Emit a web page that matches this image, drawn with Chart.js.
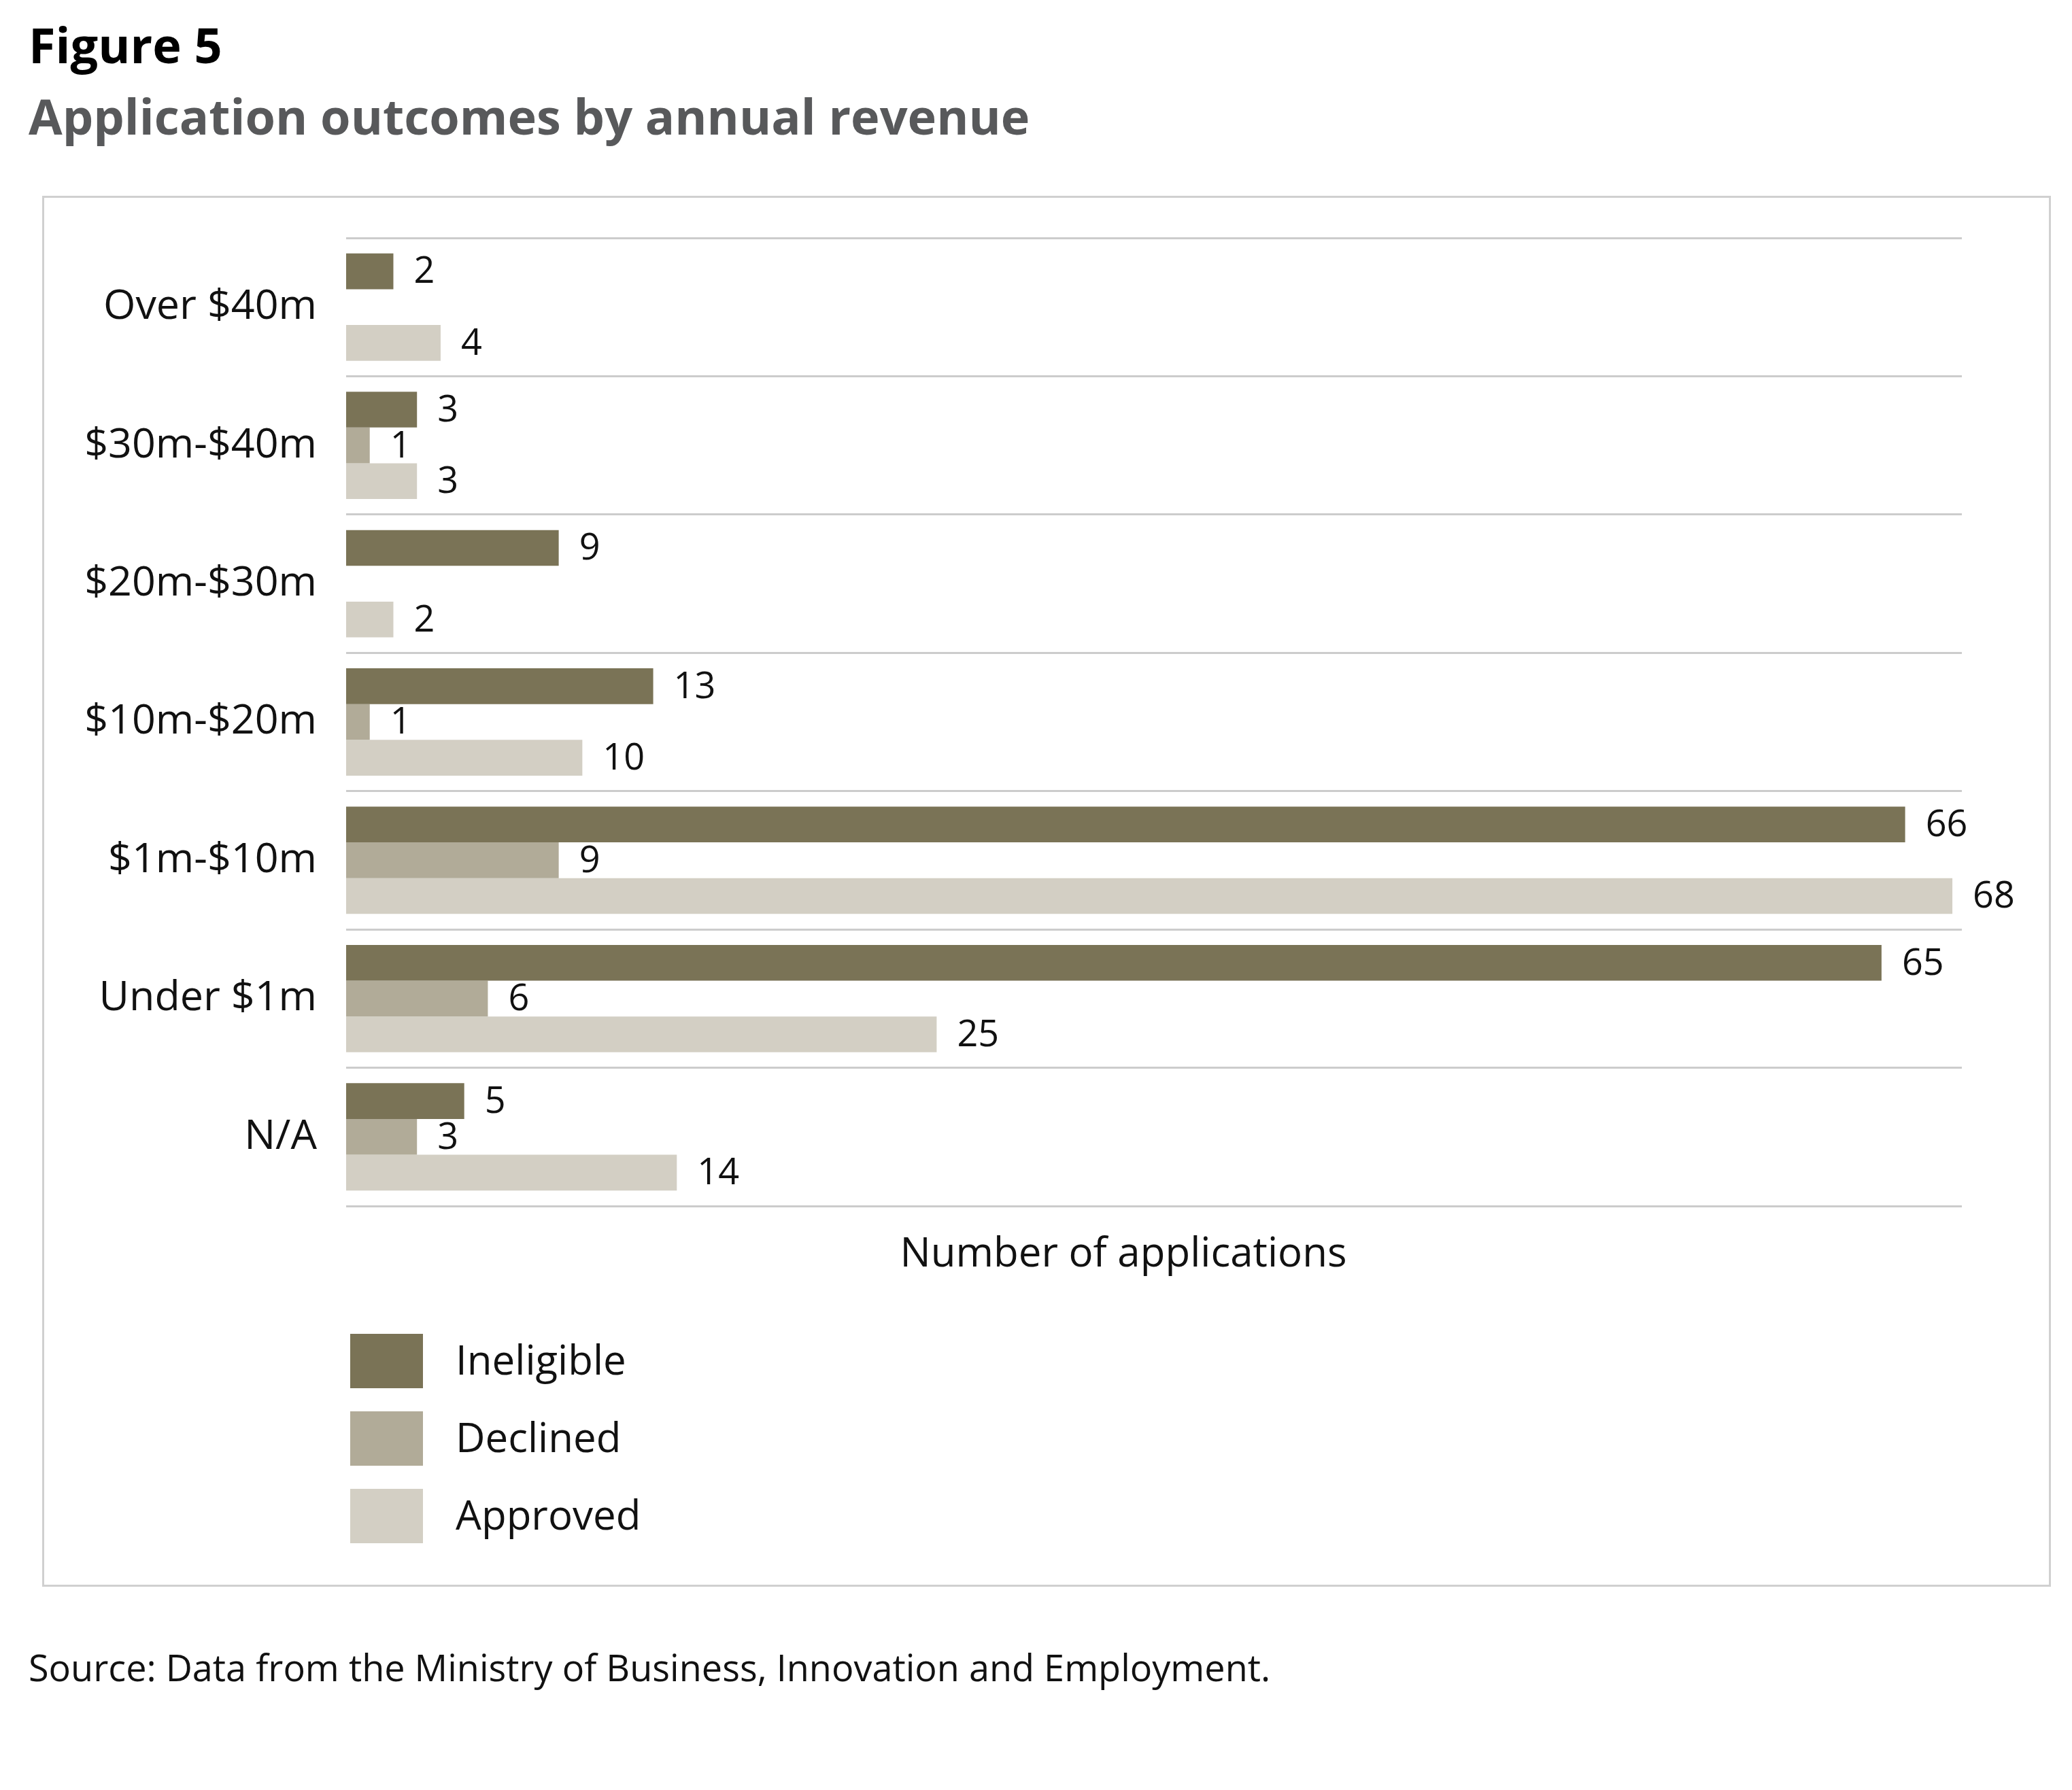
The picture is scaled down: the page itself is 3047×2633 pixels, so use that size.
<!DOCTYPE html>
<html>
<head>
<meta charset="utf-8">
<script src="https://cdn.jsdelivr.net/npm/chart.js@4.4.1/dist/chart.umd.min.js"></script>
<style>
  body { margin: 0; background: #fff; width: 3047px; height: 2633px; position: relative; overflow: hidden; font-family: "Open Sans", sans-serif; }
  .fig { position: absolute; left: 42px; top: 29px; font-size: 72px; line-height: 72px; font-weight: bold; color: #000; }
  .sub { position: absolute; left: 42px; top: 134px; font-size: 72px; line-height: 72px; font-weight: bold; color: #58595b; }
  .box { position: absolute; left: 62px; top: 288px; width: 2948px; height: 2040px; border: 3px solid #d0d0d0; }
  .wrap { position: absolute; left: 62px; top: 288px; width: 2952px; height: 1620px; }
  .legend { position: absolute; left: 515px; top: 1962px; }
  .item { position: relative; height: 80px; margin-bottom: 34px; }
  .item span.sw { position: absolute; left: 0; top: 0; width: 107px; height: 80px; }
  .item span.tx { position: absolute; left: 155px; top: -3px; font-size: 60px; line-height: 80px; color: #111; }
  .src { position: absolute; left: 42px; top: 2425px; font-size: 54px; line-height: 54px; color: #111; }
</style>
</head>
<body>
<div class="fig">Figure 5</div>
<div class="sub">Application outcomes by annual revenue</div>
<div class="box"></div>
<div class="wrap"><canvas id="chart"></canvas></div>
<div class="legend" id="legend"></div>
<div class="src">Source: Data from the Ministry of Business, Innovation and Employment.</div>
<script>
// categories top to bottom
var categories = ['Over $40m', '$30m-$40m', '$20m-$30m', '$10m-$20m', '$1m-$10m', 'Under $1m', 'N/A'];
var ineligible = [2, 3, 9, 13, 66, 65, 5];
var declined = [null, 1, null, 1, 9, 6, 3];
var approved = [4, 3, 2, 10, 68, 25, 14];
var seriesNames = ['Ineligible', 'Declined', 'Approved'];
var seriesColors = ['#7a7356', '#b1ab98', '#d3cfc4'];
var xAxisTitle = 'Number of applications';

// value at the end of each bar + the axis title (sits a bit left of centre)
var valueLabels = {
  id: 'valueLabels',
  afterDatasetsDraw: function(chart) {
    var ctx = chart.ctx;
    ctx.save();
    ctx.font = '54px "Open Sans"';
    ctx.fillStyle = '#111';
    ctx.textBaseline = 'middle';
    chart.data.datasets.forEach(function(ds, i) {
      chart.getDatasetMeta(i).data.forEach(function(bar, j) {
        if (ds.data[j] == null) return;
        ctx.fillText(ds.data[j], bar.x + 30, bar.y + 2);
      });
    });
    var a = chart.chartArea;
    ctx.font = '60px "Open Sans"';
    ctx.textAlign = 'center';
    ctx.fillText(xAxisTitle, (a.left + a.right) / 2 - 45, a.bottom + 72);
    ctx.restore();
  }
};

var allSeries = [ineligible, declined, approved];
var datasets = allSeries.map(function(vals, i) {
  return {
    label: seriesNames[i],
    data: vals,
    backgroundColor: seriesColors[i],
    borderWidth: 0,
    categoryPercentage: 0.776,
    barPercentage: 1.0
  };
});

var chart = new Chart(document.getElementById('chart'), {
  type: 'bar',
  data: { labels: categories, datasets: datasets },
  options: {
    indexAxis: 'y',
    responsive: true,
    maintainAspectRatio: false,
    devicePixelRatio: 1,
    animation: false,
    layout: { padding: { top: 62, right: 129, left: 0, bottom: 0 } },
    plugins: { legend: { display: false }, tooltip: { enabled: false } },
    scales: {
      x: {
        min: 0,
        max: 68.4,
        grid: { display: false },
        border: { display: false },
        ticks: { display: false },
        afterFit: function(s) { s.height = 134; }
      },
      y: {
        grid: { offset: true, color: '#cccccc', lineWidth: 3, drawTicks: false },
        border: { display: false },
        ticks: { color: '#111', font: { family: 'Open Sans', size: 61 }, padding: 43 },
        afterFit: function(s) { s.width = 447; s.paddingTop = 0; s.paddingBottom = 0; }
      }
    }
  },
  plugins: [valueLabels]
});

// legend
var lg = document.getElementById('legend');
seriesNames.forEach(function(name, i) {
  var d = document.createElement('div');
  d.className = 'item';
  d.innerHTML = '<span class="sw" style="background:' + seriesColors[i] + '"></span><span class="tx">' + name + '</span>';
  lg.appendChild(d);
});
</script>
</body>
</html>
